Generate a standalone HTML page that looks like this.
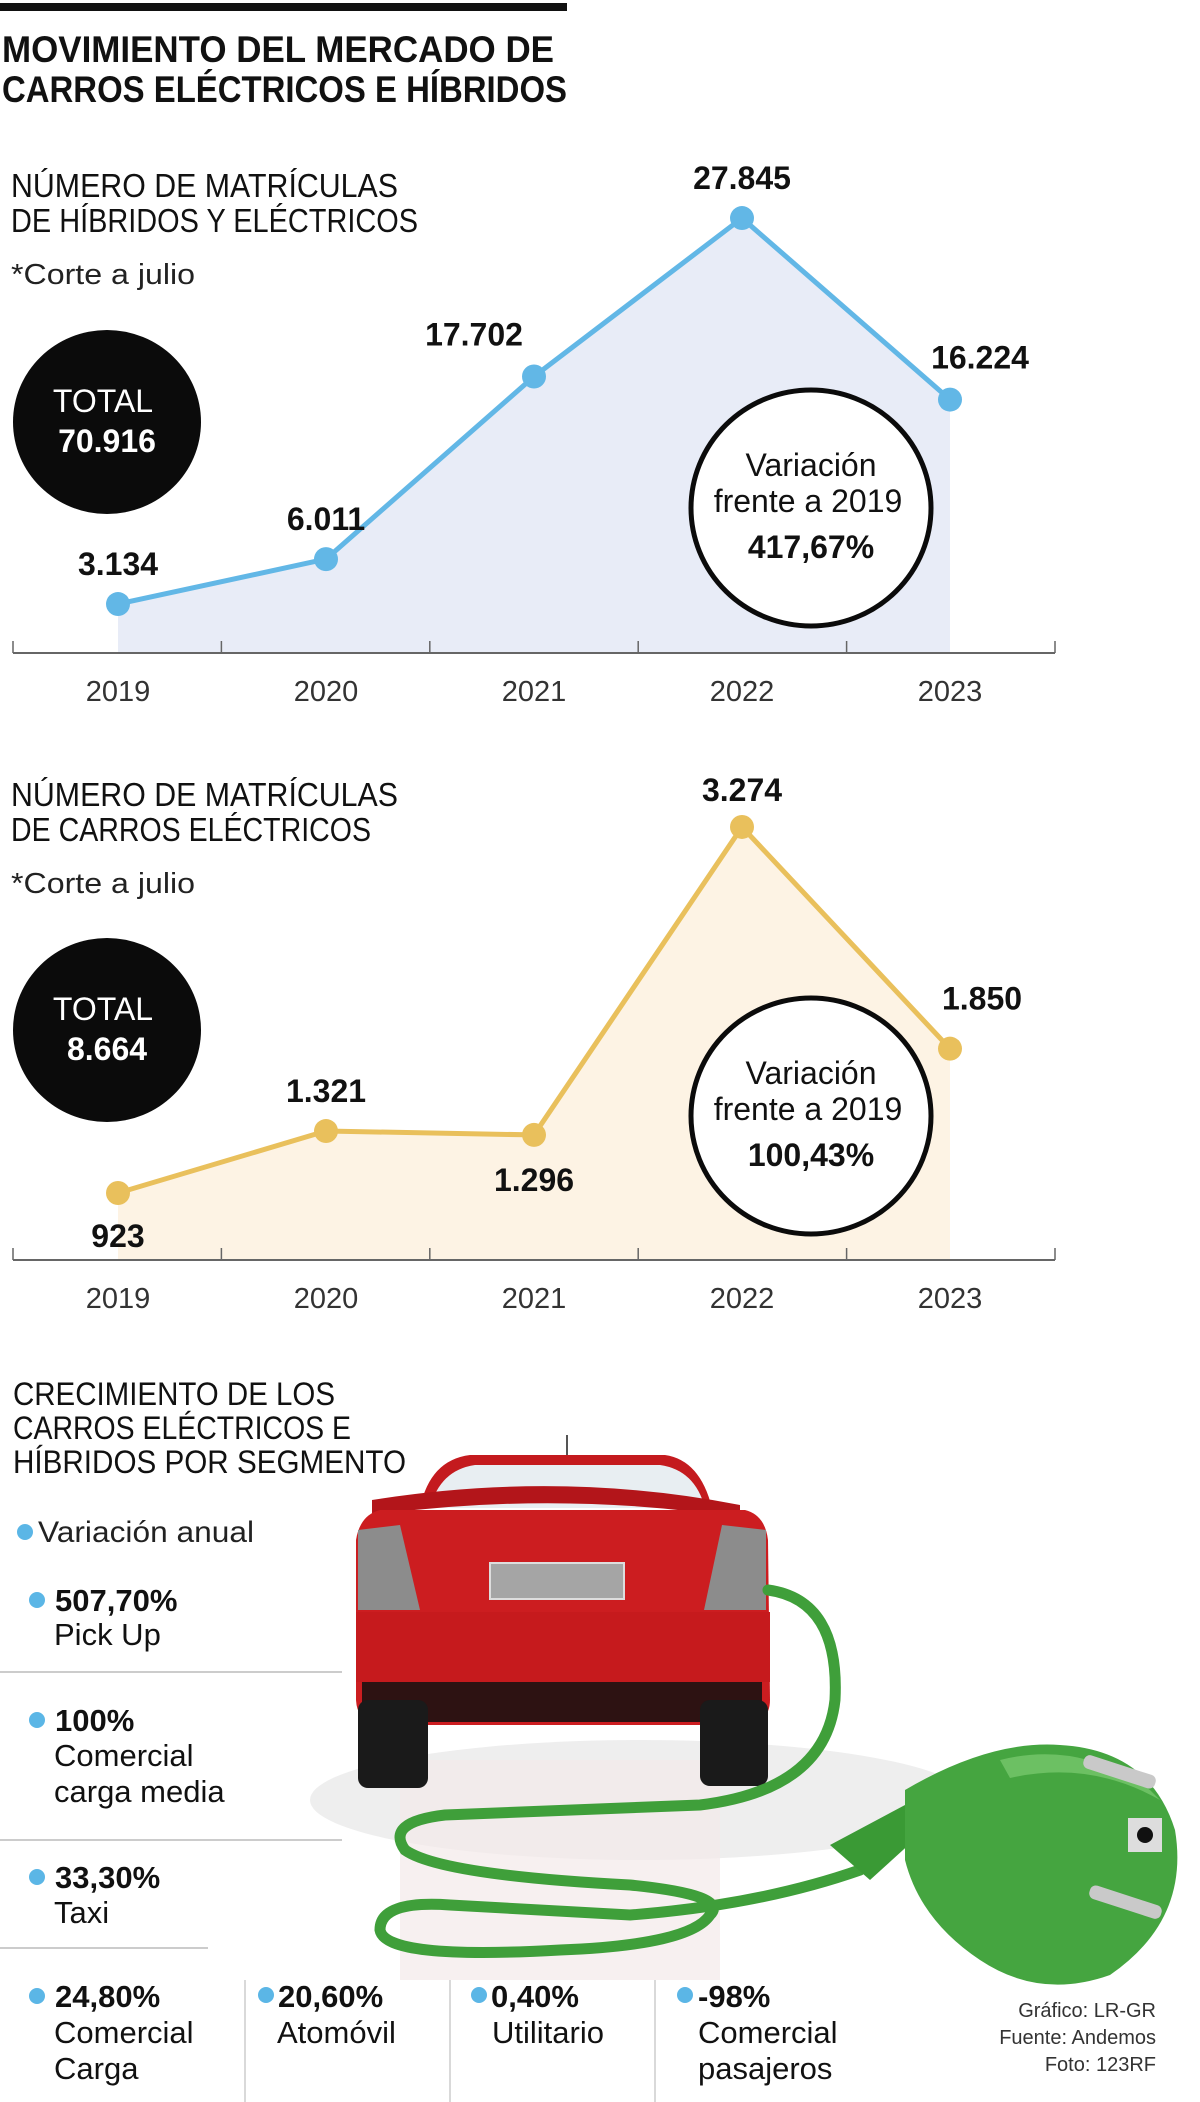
<!DOCTYPE html>
<html><head><meta charset="utf-8">
<style>
html,body{margin:0;padding:0;background:#fff;}
svg{display:block;font-family:"Liberation Sans Narrow","Liberation Sans",sans-serif;}
</style></head>
<body>
<svg id="page" width="1200" height="2102" viewBox="0 0 1200 2102" xmlns="http://www.w3.org/2000/svg">
  <rect x="0" y="0" width="1200" height="2102" fill="#fff"/>
  <rect x="0" y="3" width="567" height="8" fill="#111"/>
  <g font-weight="bold" font-size="37" fill="#111">
    <text x="2" y="62" textLength="552" lengthAdjust="spacingAndGlyphs">MOVIMIENTO DEL MERCADO DE</text>
    <text x="2" y="102" textLength="565" lengthAdjust="spacingAndGlyphs">CARROS ELÉCTRICOS E HÍBRIDOS</text>
  </g>

  <!-- Chart 1 static text -->
  <g font-size="33" fill="#111">
    <text x="11" y="197" textLength="387" lengthAdjust="spacingAndGlyphs">NÚMERO DE MATRÍCULAS</text>
    <text x="11" y="232" textLength="407" lengthAdjust="spacingAndGlyphs">DE HÍBRIDOS Y ELÉCTRICOS</text>
  </g>
  <text x="11" y="284" font-size="29" fill="#222" textLength="184" lengthAdjust="spacingAndGlyphs">*Corte a julio</text>
  <g id="chart1"></g>
  <g>
    <ellipse cx="107" cy="422" rx="94" ry="92" fill="#0b0b0b"/>
    <text x="103" y="412" font-size="32" fill="#fff" text-anchor="middle">TOTAL</text>
    <text x="107" y="452" font-size="32" font-weight="bold" fill="#fff" text-anchor="middle">70.916</text>
  </g>
  <g>
    <ellipse cx="811" cy="508" rx="120" ry="118" fill="#fff" stroke="#0b0b0b" stroke-width="5"/>
    <text x="811" y="476" font-size="32" fill="#111" text-anchor="middle">Variación</text>
    <text x="808" y="512" font-size="32" fill="#111" text-anchor="middle">frente a 2019</text>
    <text x="811" y="558" font-size="32" font-weight="bold" fill="#111" text-anchor="middle">417,67%</text>
  </g>

  <!-- Chart 2 static text -->
  <g font-size="33" fill="#111">
    <text x="11" y="806" textLength="387" lengthAdjust="spacingAndGlyphs">NÚMERO DE MATRÍCULAS</text>
    <text x="11" y="841" textLength="360" lengthAdjust="spacingAndGlyphs">DE CARROS ELÉCTRICOS</text>
  </g>
  <text x="11" y="893" font-size="29" fill="#222" textLength="184" lengthAdjust="spacingAndGlyphs">*Corte a julio</text>
  <g id="chart2"></g>
  <g>
    <ellipse cx="107" cy="1030" rx="94" ry="92" fill="#0b0b0b"/>
    <text x="103" y="1020" font-size="32" fill="#fff" text-anchor="middle">TOTAL</text>
    <text x="107" y="1060" font-size="32" font-weight="bold" fill="#fff" text-anchor="middle">8.664</text>
  </g>
  <g>
    <ellipse cx="811" cy="1116" rx="120" ry="118" fill="#fff" stroke="#0b0b0b" stroke-width="5"/>
    <text x="811" y="1084" font-size="32" fill="#111" text-anchor="middle">Variación</text>
    <text x="808" y="1120" font-size="32" fill="#111" text-anchor="middle">frente a 2019</text>
    <text x="811" y="1166" font-size="32" font-weight="bold" fill="#111" text-anchor="middle">100,43%</text>
  </g>

  <!-- Car illustration -->
  <g>
    <ellipse cx="640" cy="1800" rx="330" ry="60" fill="#eee"/>
    <rect x="400" y="1760" width="320" height="220" fill="#f3eaea" opacity="0.7"/>
    <line x1="567" y1="1435" x2="567" y2="1460" stroke="#555" stroke-width="2"/>
    <path d="M420 1508 Q430 1460 470 1455 L665 1455 Q700 1460 712 1508 Z" fill="#c41a1e"/>
    <path d="M430 1508 Q440 1470 475 1465 L660 1465 Q695 1470 705 1508 Z" fill="#e8eef2"/>
    <path d="M372 1500 Q560 1470 740 1505 L740 1518 Q560 1490 372 1515 Z" fill="#b3151a"/>
    <path d="M356 1540 Q360 1515 380 1510 L745 1510 Q765 1515 768 1540 L770 1700 Q770 1720 750 1725 L375 1725 Q357 1720 356 1700 Z" fill="#cc1d20"/>
    <path d="M358 1530 L400 1525 L420 1610 L358 1610 Z" fill="#8c8c8c"/>
    <path d="M766 1530 L722 1525 L704 1610 L766 1610 Z" fill="#8c8c8c"/>
    <rect x="490" y="1563" width="134" height="36" fill="#a5a5a5" stroke="#ddd" stroke-width="2"/>
    <rect x="356" y="1612" width="414" height="70" fill="#c61a1d"/>
    <rect x="362" y="1682" width="400" height="40" fill="#111" opacity="0.85"/>
    <rect x="358" y="1700" width="70" height="88" rx="10" fill="#1a1a1a"/>
    <rect x="700" y="1700" width="68" height="86" rx="10" fill="#1a1a1a"/>
  </g>
  <g fill="none" stroke="#3f9f3a" stroke-width="11" stroke-linecap="round">
    <path d="M768 1590 Q840 1600 835 1700 Q825 1790 700 1805 Q560 1810 445 1815 Q385 1822 405 1850 Q440 1875 630 1885 Q730 1895 710 1915 Q690 1945 560 1950 Q385 1960 380 1930 Q380 1900 450 1905 Q540 1910 630 1915 Q760 1905 860 1870"/>
  </g>
  <g>
    <path d="M830 1845 L905 1805 L925 1830 L870 1880 Z" fill="#3a9a35"/>
    <path d="M905 1790 Q990 1740 1060 1745 Q1150 1750 1175 1830 Q1190 1920 1110 1975 Q1040 2000 980 1960 Q920 1920 905 1860 Z" fill="#45a540"/>
    <path d="M1000 1760 Q1080 1740 1150 1790 L1160 1800 Q1090 1760 1010 1778 Z" fill="#6cc063"/>
    <rect x="1082" y="1765" width="75" height="14" rx="6" fill="#c9c9c9" transform="rotate(18 1120 1772)"/>
    <rect x="1088" y="1895" width="75" height="14" rx="6" fill="#c9c9c9" transform="rotate(18 1125 1902)"/>
    <rect x="1128" y="1818" width="34" height="34" fill="#ddd"/>
    <circle cx="1145" cy="1835" r="8" fill="#111"/>
  </g>

  <!-- Section 3 -->
  <g font-size="32" fill="#111">
    <text x="13" y="1405" textLength="322" lengthAdjust="spacingAndGlyphs">CRECIMIENTO DE LOS</text>
    <text x="13" y="1439" textLength="338" lengthAdjust="spacingAndGlyphs">CARROS ELÉCTRICOS E</text>
    <text x="13" y="1473" textLength="393" lengthAdjust="spacingAndGlyphs">HÍBRIDOS POR SEGMENTO</text>
  </g>
  <g>
    <circle cx="25" cy="1532" r="8" fill="#5bb6e6"/>
    <text x="38" y="1542" font-size="30" fill="#222" textLength="216" lengthAdjust="spacingAndGlyphs">Variación anual</text>
  </g>
  <g font-size="31" fill="#111">
    <g>
      <circle cx="37" cy="1600" r="8" fill="#5bb6e6"/>
      <text x="55" y="1611" font-weight="bold">507,70%</text>
      <text x="54" y="1645">Pick Up</text>
    </g>
    <line x1="0" y1="1672" x2="342" y2="1672" stroke="#bbb" stroke-width="1.5"/>
    <g>
      <circle cx="37" cy="1720" r="8" fill="#5bb6e6"/>
      <text x="55" y="1731" font-weight="bold">100%</text>
      <text x="54" y="1766">Comercial</text>
      <text x="54" y="1802">carga media</text>
    </g>
    <line x1="0" y1="1840" x2="342" y2="1840" stroke="#bbb" stroke-width="1.5"/>
    <g>
      <circle cx="37" cy="1877" r="8" fill="#5bb6e6"/>
      <text x="55" y="1888" font-weight="bold">33,30%</text>
      <text x="54" y="1923">Taxi</text>
    </g>
    <line x1="0" y1="1948" x2="208" y2="1948" stroke="#bbb" stroke-width="1.5"/>
    <g>
      <circle cx="37" cy="1996" r="8" fill="#5bb6e6"/>
      <text x="55" y="2007" font-weight="bold">24,80%</text>
      <text x="54" y="2043">Comercial</text>
      <text x="54" y="2079">Carga</text>
    </g>
    <line x1="245" y1="1980" x2="245" y2="2102" stroke="#ccc" stroke-width="1.5"/>
    <g>
      <circle cx="266" cy="1995" r="8" fill="#5bb6e6"/>
      <text x="278" y="2007" font-weight="bold">20,60%</text>
      <text x="277" y="2043">Atomóvil</text>
    </g>
    <line x1="450" y1="1980" x2="450" y2="2102" stroke="#ccc" stroke-width="1.5"/>
    <g>
      <circle cx="479" cy="1995" r="8" fill="#5bb6e6"/>
      <text x="491" y="2007" font-weight="bold">0,40%</text>
      <text x="492" y="2043">Utilitario</text>
    </g>
    <line x1="655" y1="1980" x2="655" y2="2102" stroke="#ccc" stroke-width="1.5"/>
    <g>
      <circle cx="685" cy="1995" r="8" fill="#5bb6e6"/>
      <text x="698" y="2007" font-weight="bold">-98%</text>
      <text x="698" y="2043">Comercial</text>
      <text x="698" y="2079">pasajeros</text>
    </g>
  </g>
  <g font-size="20" fill="#333" text-anchor="end">
    <text x="1156" y="2017">Gráfico: LR-GR</text>
    <text x="1156" y="2044">Fuente: Andemos</text>
    <text x="1156" y="2071">Foto: 123RF</text>
  </g>
</svg>
<script>
const years = ["2019","2020","2021","2022","2023"];
const hybridValues = [3134, 6011, 17702, 27845, 16224];
const hybridLabels = ["3.134","6.011","17.702","27.845","16.224"];
const electricValues = [923, 1321, 1296, 3274, 1850];
const electricLabels = ["923","1.321","1.296","3.274","1.850"];

const NS = "http://www.w3.org/2000/svg";
function mk(tag, attrs, parent) {
  const e = document.createElementNS(NS, tag);
  for (const k in attrs) e.setAttribute(k, attrs[k]);
  parent.appendChild(e);
  return e;
}
function xScale(i) { return 118 + i * 208; }

function drawChart(gid, values, labels, baseY, yScale, lineColor, fillColor, offs) {
  const g = document.getElementById(gid);
  const pts = values.map((v, i) => [xScale(i), yScale(v)]);
  const area = mk("polygon", {points: pts.map(p => p.join(",")).join(" ") + " " + xScale(values.length - 1) + "," + baseY + " " + xScale(0) + "," + baseY, fill: fillColor}, g);
  
  
  const axis = mk("line", {x1: 13, y1: baseY, x2: 1055, y2: baseY, stroke: "#666", "stroke-width": 2}, g);
  
  
  for (let i = 0; i <= values.length; i++) {
    const tx = 13 + i * 208.4;
    const t = mk("line", {x1: tx, y1: baseY - 12, x2: tx, y2: baseY, stroke: "#666", "stroke-width": 1.5}, g);
    
    
  }
  years.forEach((y, i) => {
    const t = mk("text", {x: xScale(i), y: baseY + 48, "font-size": 29, fill: "#333", "text-anchor": "middle"}, g);
    t.textContent = y;
    
    
  });
  const line = mk("polyline", {points: pts.map(p => p.join(",")).join(" "), fill: "none", stroke: lineColor, "stroke-width": 5, "stroke-linejoin": "round"}, g);
  
  
  pts.forEach((p, i) => {
    const c = mk("circle", {cx: p[0], cy: p[1], r: 12, fill: lineColor}, g);
    
    
    const t = mk("text", {x: p[0] + offs[i][0], y: p[1] + offs[i][1] + 11, "font-size": 32, "font-weight": "bold", fill: "#111", "text-anchor": "middle"}, g);
    t.textContent = labels[i];
    
    
  });
}

const labelOffsets1 = [[0,-40],[0,-40],[-60,-42],[0,-40],[30,-42]];
const labelOffsets2 = [[0,43],[0,-40],[0,45],[0,-37],[32,-50]];

drawChart("chart1", hybridValues, hybridLabels, 653, v => 653 - v * 0.01562, "#62b7e6", "#e8ecf7", labelOffsets1);
drawChart("chart2", electricValues, electricLabels, 1260, v => 1193 - (v - 923) * 0.1557, "#e9c05c", "#fdf3e4", labelOffsets2);
</script>
</body></html>
